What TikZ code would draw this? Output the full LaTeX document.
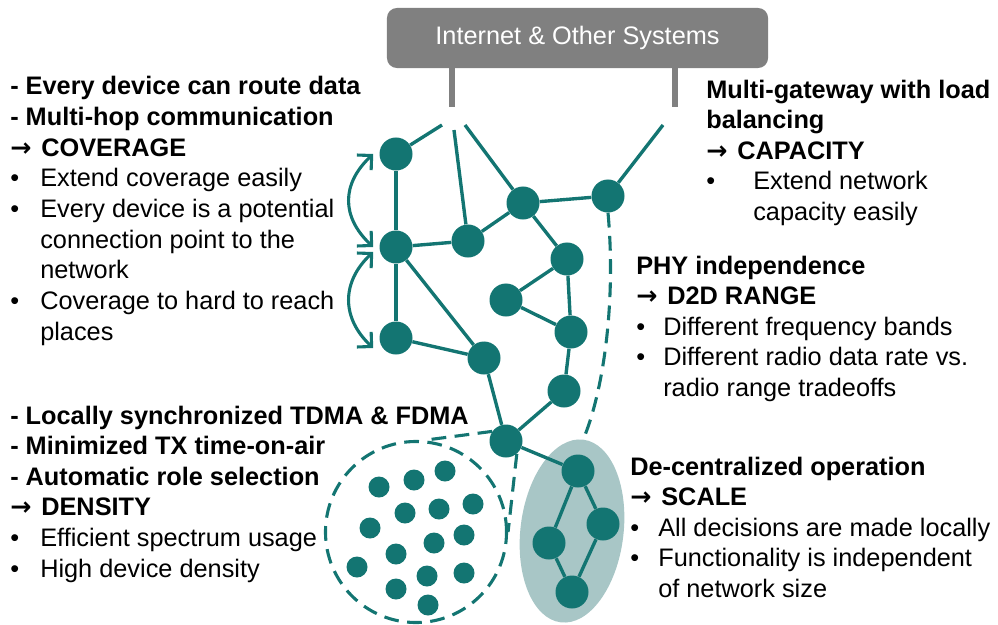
\documentclass[tikz,border=0pt]{standalone}
\usepackage{fontspec}
\setmainfont{Liberation Sans}
\newfontfamily\arrowfont{DejaVu Sans}
\usetikzlibrary{arrows.meta,calc,shapes.geometric}
\definecolor{meshteal}{RGB}{19,117,114}
\definecolor{clustfill}{RGB}{168,198,198}
\definecolor{inetgray}{RGB}{128,128,128}
\newcommand{\bulitem}[2]{\makebox[#1][l]{•}#2}
\newcommand{\bulcont}[2]{\hspace*{#1}#2}
\newcommand{\goalarrow}{{\arrowfont\bfseries →}\hspace{2pt}}

\begin{document}
\begin{tikzpicture}[x=0.025cm, y=-0.025cm,
  mote/.style={circle, fill=meshteal, minimum size=0.825cm, inner sep=0pt},
  swarm/.style={circle, fill=meshteal, minimum size=0.525cm, inner sep=0pt},
  link/.style={meshteal, line width=2.4pt},
  radio/.style={meshteal, line width=2.2pt, dash pattern=on 10.5pt off 6pt},
  hop/.style={meshteal, line width=2.2pt,
    {Straight Barb[length=2.6mm,width=5.2mm]}-{Straight Barb[length=2.6mm,width=5.2mm]}},
  stub/.style={inetgray, line width=4.3pt},
  info/.style={anchor=base west, inner sep=0pt, font=\fontsize{18}{21.8}\selectfont}
]
  \useasboundingbox (0,0) rectangle (998,624);

  % Internet box and its two gateway stubs
  \node[fill=inetgray, rounded corners=0.25cm, minimum width=9.525cm, minimum height=1.5cm,
        text=white, font=\fontsize{18}{21.8}\selectfont] (inet) at (577.5,38) {Internet \& Other Systems};
  \coordinate (s1) at (452,107);
  \coordinate (s2) at (675,107);
  \draw[stub] (inet.south -| s1) -- (s1);
  \draw[stub] (inet.south -| s2) -- (s2);

  % De-centralized cluster (behind its motes)
  \node[ellipse, fill=clustfill, minimum width=2.575cm, minimum height=4.6cm, rotate=-7] (cluster) at (572,531) {};

  % Mesh motes
  \node[mote] (A) at (396,154) {};
  \node[mote] (B) at (396,247) {};
  \node[mote] (C) at (396,338) {};
  \node[mote] (D) at (468,241) {};
  \node[mote] (E) at (523,203) {};
  \node[mote] (F) at (608,196) {};
  \node[mote] (G) at (567,259) {};
  \node[mote] (H) at (506,300) {};
  \node[mote] (I) at (571,332) {};
  \node[mote] (J) at (484,358) {};
  \node[mote] (K) at (564,391) {};
  \node[mote] (L) at (506,441) {};
  \node[mote] (M) at (578,471) {};
  \node[mote] (N) at (603,524) {};
  \node[mote] (O) at (549,543) {};
  \node[mote] (P) at (572,592) {};

  % Links to the gateways end short of the stubs
  \coordinate (gA) at (442,125);
  \coordinate (gD) at (454,130);
  \coordinate (gE) at (465,125);
  \coordinate (gF) at (663,125);
  \foreach \u/\v in {A/gA, D/gD, E/gE, F/gF}
    \draw[link] (\u) -- (\v);

  \foreach \u/\v in {A/B, B/C, B/D, D/E, E/F, E/G, G/H, G/I, H/I, B/J, C/J,
                     J/L, I/K, K/L, L/M, M/N, M/O, N/P, O/P}
    \draw[link] (\u) -- (\v);

  % Multi-hop arrows
  \draw[hop] ($(A.west)+(-6,0)$) .. controls +(-32,30) and +(-32,-30) .. ($(B.west)+(-6,0)$);
  \draw[hop] ($(B.west)+(-6,5)$) .. controls +(-32,30) and +(-32,-30) .. ($(C.west)+(-6,10)$);

  % Dense area
  \node[circle, draw, radio, minimum size=4.525cm] (ring) at (416,532) {};
  \foreach \x/\y [count=\i] in {379/487, 414/480, 445/471, 473/504, 405/513,
                                439/509, 370/528, 464/535, 434/543, 396/554,
                                357/567, 464/573, 427/576, 396/589, 428/605}
    \node[swarm] (d\i) at (\x,\y) {};
  \draw[radio] (L.145) -- (ring.85);
  \draw[radio] (L.-50) -- (ring.east);
  \draw[radio] (F.south) .. controls (616,300) and (604,390) .. (cluster.north);

  % Text blocks
  \node[info] (coverage) at (10,95) {\begin{tabular}[t]{@{}l@{}}
    \bfseries - Every device can route data\\
    \bfseries - Multi-hop communication\\
    \bfseries \goalarrow{} COVERAGE\\
    \bulitem{0.75cm}{Extend coverage easily}\\
    \bulitem{0.75cm}{Every device is a potential}\\
    \bulcont{0.75cm}{connection point to the}\\
    \bulcont{0.75cm}{network}\\
    \bulitem{0.75cm}{Coverage to hard to reach}\\
    \bulcont{0.75cm}{places}
  \end{tabular}};

  \node[info] (capacity) at (706,98) {\begin{tabular}[t]{@{}l@{}}
    \bfseries Multi-gateway with load\\
    \bfseries balancing\\
    \bfseries \goalarrow{} CAPACITY\\
    \bulitem{1.175cm}{Extend network}\\
    \bulcont{1.175cm}{capacity easily}
  \end{tabular}};

  \node[info] (range) at (636,274) {\begin{tabular}[t]{@{}l@{}}
    \bfseries PHY independence\\
    \bfseries \goalarrow{} D2D RANGE\\
    \bulitem{0.675cm}{Different frequency bands}\\
    \bulitem{0.675cm}{Different radio data rate vs.}\\
    \bulcont{0.675cm}{radio range tradeoffs}
  \end{tabular}};

  \node[info] (density) at (10,424) {\begin{tabular}[t]{@{}l@{}}
    \bfseries - Locally synchronized TDMA \& FDMA\\
    \bfseries - Minimized TX time-on-air\\
    \bfseries - Automatic role selection\\
    \bfseries \goalarrow{} DENSITY\\
    \bulitem{0.75cm}{Efficient spectrum usage}\\
    \bulitem{0.75cm}{High device density}
  \end{tabular}};

  \node[info] (scale) at (630,475) {\begin{tabular}[t]{@{}l@{}}
    \bfseries De-centralized operation\\
    \bfseries \goalarrow{} SCALE\\
    \bulitem{0.7cm}{All decisions are made locally}\\
    \bulitem{0.7cm}{Functionality is independent}\\
    \bulcont{0.7cm}{of network size}
  \end{tabular}};
\end{tikzpicture}
\end{document}
